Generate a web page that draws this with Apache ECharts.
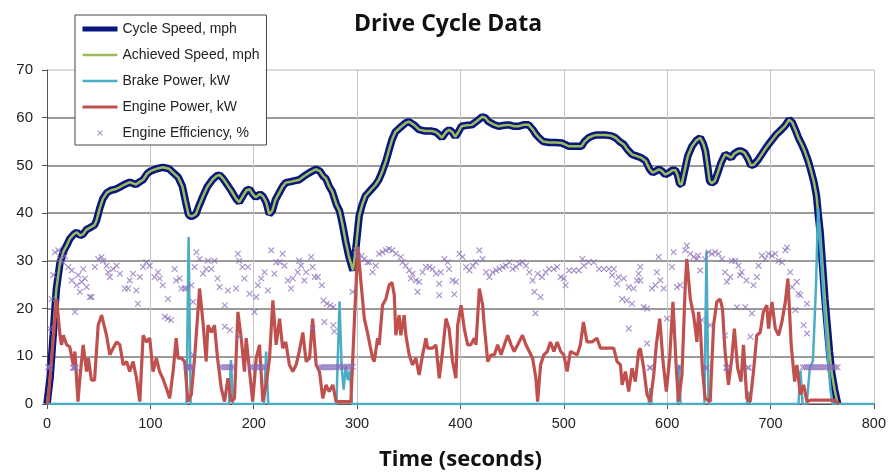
<!DOCTYPE html>
<html>
<head>
<meta charset="utf-8">
<script src="https://cdn.jsdelivr.net/npm/echarts@6/dist/echarts.min.js"></script>
<style>
  html, body { margin: 0; padding: 0; background: #fff; }
  #chart { width: 889px; height: 476px; }
</style>
</head>
<body>
<div id="chart"></div>
<script>
// drive cycle data as [time (s), value]
const cycleSpeed = [
  [0,0],[3,5.5],[6,14.5],[9,24],[12.5,29.5],[16,32],[19,33.2],[22,34.6],[26,35.6],[29,36],[32,35.3],[35,35.6],
  [38,36.5],[42,37],[46,37.5],[48,38.5],[51,41],[54,43],[58,44.3],[62,44.8],[66,45],[70,45.4],[75,46],[80,46.5],
  [86,46],[90,46.6],[93,47],[97,48.3],[100,48.8],[106,49.3],[112,49.6],[118,49.3],[122,48.5],[127,47.5],[131,45.6],
  [134,42.5],[137,39.6],[140,39.3],[144,39.8],[147,41.5],[151,43.6],[155,45.5],[160,47],[164,47.8],[167,48],
  [170,47.3],[173,46.4],[178,44.8],[183,43],[186,42.3],[190,43.8],[193,44.8],[196,45],[199,44],[202,43.3],[206,44],
  [209,43.5],[212,42.3],[215,39.8],[218,40.5],[221,42.8],[225,44.4],[228,45.6],[231,46.4],[236,46.6],[240,46.8],
  [244,47],[249,47.8],[254,48.5],[260,49.2],[264,48.8],[267,47.8],[270,47.2],[273,45.6],[276,44.5],[280,41.8],
  [283,40.5],[286,37.5],[289,34],[292,31],[296,28],[299,33],[302,39.4],[305,41.8],[308,43.6],[313,44.8],[318,46],
  [321,47],[324,48.5],[328,51],[331,53.3],[334,55.5],[337,57],[342,58],[347,58.9],[350,59.2],[355,58.5],[360,57.5],
  [366,57.2],[372,57.2],[376,57],[379,56.5],[382,55.8],[386,57],[389,57.5],[392,57],[395,56],[398,57],[401,58.2],
  [406,58.4],[411,58.5],[416,59.3],[421,60.2],[424,60],[427,59.2],[432,58.6],[437,58.2],[442,58.4],[447,58.5],
  [452,58.2],[456,58.2],[461,58.5],[466,58.5],[470,57.5],[473,56.5],[476,55.8],[480,55],[486,54.8],[492,54.8],
  [498,54.7],[502,54.3],[505,54],[511,54],[517,54],[520,55],[524,55.8],[528,56.2],[532,56.4],[540,56.4],[546,56.2],
  [550,55.8],[554,55],[558,54.4],[562,53.2],[566,52.3],[570,52],[575,51.6],[579,51],[583,49.2],[586,48.5],
  [589,48.8],[592,49.2],[595,48.8],[598,48.1],[602,48.5],[605,49],[608,49],[610,48],[612,46.2],[614,46],[617,49],
  [620,52],[624,54],[628,55.2],[632,55.8],[635,54.5],[637,53],[639,50],[641,46.8],[643,46.3],[646,46.7],[649,48.5],
  [652,50.5],[656,52.3],[659,52],[662,51.6],[665,52.5],[669,53],[672,53],[675,52.6],[678,51.5],[681,50],[684,50.2],
  [688,51.2],[692,52.5],[695,53.5],[698,54.4],[702,55.5],[706,56.6],[710,57.4],[714,58.3],[718,59.6],[721,59],
  [724,57.5],[727,55.8],[730,54.5],[733,53],[736.5,50.9],[739,49],[742,46.5],[744.5,43.6],[746,40],[748,36],
  [750,30],[752.6,22],[755,16],[757,11],[759,6.8],[762,3],[765,0]
];

// achieved speed sits right on top of the cycle speed trace
const achievedSpeed = cycleSpeed;

const brakePower = [
  [0,0],[135,0],[137,35],[139,0],[176,0],[178,9.2],[180,0],[210,0],[212,11],[214,0],[280,0],[283,21.5],[285,8],
  [287,3],[289,8],[291,5],[293,7],[295,0],[582,0],[583.7,3.3],[585,0],[610,0],[611.5,8.2],[613,0],[636,0],[638,32],
  [640,0],[677,0],[678.6,2.6],[680,0],[727,0],[729,7],[731,0],[735,0],[738,7.5],[741,9],[744,25],[746,41],[749,30],
  [752,20],[755,11],[758,3],[760,0],[800,0]
];

const enginePower = [
  [0,0],[1,0.5],[9.3,22],[12.6,14.4],[14,12.4],[15.8,14.4],[19,12.4],[22,12],[25.4,8.2],[27,11],[30,0.5],[31.8,5.4],
  [35,12.4],[38.3,6.8],[40,9.6],[43,5],[46,5],[49.5,16.5],[52.8,18.6],[54.4,17.2],[57.6,14.4],[60.8,10.3],[64,11.7],
  [67.3,13],[70.5,12.4],[73.7,8.2],[77,8.9],[80,6.8],[83.3,8.9],[86.6,5.4],[89.8,0.5],[93,14.4],[96.2,13],[99.4,13.8],
  [102.6,6.8],[105.8,9.6],[109,6.8],[112,5.4],[115.5,3.3],[118.7,1.2],[122,6.8],[125,13.8],[126.8,9.6],[130,9.6],
  [133.2,8.9],[136.4,0.5],[139.6,2],[142.8,9.6],[147.6,24.2],[150.9,17.2],[154,8.9],[155.7,16.5],[159,15],[162,16.5],
  [165,9.6],[168.6,3.3],[171.8,0.5],[175,5.4],[178.2,0.5],[181.4,1.2],[184.7,19.3],[187.9,13.8],[191,6.8],[192.7,13.8],
  [196,6.8],[199,0.5],[202.4,9.6],[205.6,12.4],[208.8,0.5],[212,4],[215.3,9.6],[218.5,21.7],[221.7,12.4],[225,17.9],
  [228,11.7],[231,13],[234.5,8.2],[237.8,6.8],[241,8.2],[244,11],[247.5,15],[250.7,8.9],[254,9.6],[257,17.9],
  [260.4,8.2],[263.6,6.8],[266.8,1.2],[270,4],[273,2.6],[276.5,4],[279.7,0.5],[294,0.5],[297.5,17.9],[300.7,33],
  [304,24.9],[307,17.9],[310,15],[311.8,15],[315,9.6],[316.6,8.9],[319.8,13.8],[321.4,12.4],[324.6,20.7],[327.8,22],
  [331,24.9],[333.7,25.5],[336,22.8],[337.5,14.4],[340.7,18.6],[342.3,14.4],[345.5,18.6],[347.2,14.4],[350.4,10.3],
  [353.6,8.2],[356.9,9.6],[360,6.1],[363.4,10.3],[366.6,13.8],[368.3,11.7],[373,11.7],[376.3,12.4],[379.5,5.4],
  [382.7,11],[386,17.9],[389,15.8],[392.4,8.9],[395.6,5.4],[397.3,16.5],[400.6,20.7],[403.7,15.8],[407,12.4],
  [410,12.4],[413.4,13.8],[415,12.4],[418.3,24.2],[421.5,20.7],[423,16.5],[426.4,8.9],[429.6,10.3],[432.8,10.3],
  [436,12.4],[439.3,10.3],[442.5,12.4],[445.7,14.4],[449,12.4],[452,11],[455.4,12.4],[460,14.4],[463.4,12.4],
  [466.6,11],[469.8,9.6],[473,5.4],[474.7,0.5],[477.5,8.2],[480.7,10.3],[484,11],[487,13],[490.4,11],[493.6,13],
  [497,11],[500,10.3],[503.2,6.8],[506.4,11],[513,10.3],[516,12.4],[519,17.2],[522.4,13],[527.3,13],[532,13.8],
  [535.5,11.7],[548.3,11.7],[551.5,8.9],[554.8,8.2],[556.4,4],[559.6,6.8],[562.8,2.6],[566,7.5],[569.2,4.7],
  [572.4,11],[574,11.7],[577.3,7.5],[580.5,2],[583.7,0.5],[587,6.1],[589.5,12.4],[592.8,17.9],[596,8.9],[599.2,2.6],
  [602.4,9.6],[605.6,21.4],[608.8,7.5],[611,0.5],[614.3,6.1],[617.5,24.9],[619,30.4],[622.4,22],[625.6,18.6],
  [628.8,13],[630.4,19.3],[632,16.5],[634,7.5],[636.7,1.2],[641.6,0.5],[644.9,16.5],[648,21.4],[651.2,22],[653.5,20],
  [656,11],[659.3,4],[662.5,9.6],[665,15.8],[668.2,7.5],[671.4,4.7],[673.8,12.4],[677,1.2],[680.3,0.5],[683.5,6.8],
  [686.7,14.4],[690,15],[693,19.3],[696.4,20.7],[698,15.8],[701.4,21.4],[704.6,15.8],[707.8,14.4],[711,17.2],
  [714.3,21.4],[716.8,26.3],[720,12.4],[723.3,4.7],[725.5,8.2],[728.8,2],[732,4],[735.3,0.5],[738.5,0.8],[762,0.8],
  [766,0]
];

const engineEfficiency = [
  // idle band near 7.7 %
  [1,7.7],[2,7.7],[3,7.7],[25,7.6],[26,7.6],[27,7.6],[28,7.6],[135,7.7],[136,7.7],[137,7.7],[138,7.7],[139,7.7],
  [140,7.7],[168,7.7],[170,7.7],[172,7.7],[174,7.7],[176,7.7],[178,7.7],[180,7.7],[197,7.7],[199,7.7],[201,7.7],
  [203,7.7],[205,7.7],[207,7.7],[209,7.7],[211,7.7],[264,7.7],[266,7.7],[268,7.7],[270,7.7],[272,7.7],[274,7.7],
  [276,7.7],[278,7.7],[280,7.7],[282,7.8],[284,7.8],[286,7.8],[288,7.8],[290,7.8],[292,7.8],[294,7.8],[296,7.8],
  [583,7.6],[584,7.6],[611,7.6],[612,7.6],[637,7.6],[638,7.6],[657,7.6],[658,7.6],[678,7.6],[679,7.6],
  [731,7.7],[733,7.7],[735,7.7],[737,7.7],[739,7.7],[741,7.7],[743,7.7],[745,7.7],[747,7.7],[749,7.7],[751,7.7],
  [753,7.7],[755,7.7],[757,7.7],[759,7.7],[761,7.7],[763,7.7],[765,7.7],
  // running
  [2.9,15.8],[4.5,22],[6,27],[7.7,31.8],[10.9,32.2],[12.6,30.4],[15.8,29.7],[17.4,31],[20.6,28.7],[23.9,28],
  [23.9,25.9],[27,19.3],[28.6,24.9],[30.2,27],[31.8,23.5],[33.5,25.6],[35,28.3],[36.7,26.3],[38.3,24.5],[41.5,22.4],
  [43,22.4],[46.3,28.7],[49.5,30.4],[52.7,30.8],[54.4,30],[57.6,29],[59.2,27.6],[60.8,26.6],[64,28.3],[67.3,29],
  [70.5,27.3],[75.3,24.2],[78.5,24.2],[80,25.9],[83.3,27.3],[86.5,23.8],[88,21],[89.8,26.6],[93,28.7],[96,29.7],
  [99.4,29],[104,26.6],[107.4,27.6],[109,26.3],[112,24.9],[114,18.3],[117,17.9],[117,22],[120,17.6],[123.5,28.3],
  [125,25.9],[128.4,26.3],[130,24.2],[133,24.2],[134.8,24.2],[139.6,24.9],[141.3,21.4],[141.3,10.3],[142.8,28.7],
  [144.5,31.8],[147.6,30.4],[150.9,27.3],[154,28.3],[155.7,30],[159,28.3],[162,30],[165,26.3],[167,24.5],
  [172,20.7],[172,16.2],[175,23.8],[177,15.5],[183,24.2],[184.7,31.5],[186,30],[186,14.1],[189,28.7],[191,26.3],
  [194.4,28.7],[196,23.1],[200.8,19.3],[202.4,22.4],[204,24.9],[207.3,26.3],[210.5,27.6],[213.7,23.8],[217,32.2],
  [220,27.3],[221.7,29.7],[225,29.7],[228,31.5],[229.8,29],[233,25.9],[236.2,24.2],[237.8,26.3],[242.6,27.6],
  [244,30],[245.8,29],[249,25.9],[250.7,27.6],[255.6,30.8],[257,28.7],[257,15.8],[259,26.6],[262,26.6],[265.9,24.9],
  [267.5,21.7],[268.4,17.2],[270.7,21],[274,20.7],[277,20.3],[277,16.5],[278,15.2],[295.6,23.5],[298.5,32.2],
  [301,31],[304,31],[307,30.4],[310,29.7],[311.8,29.7],[315,27.6],[318,29],[321.4,31.5],[324.6,31.8],[327.8,32.2],
  [331,32.5],[334,32.2],[337.5,31.5],[342.3,30.8],[344,29.7],[347,29],[350.4,28],[352,26.3],[353.6,27.3],[357,25.9],
  [358.5,23.5],[360,25.6],[363.4,27.6],[366.6,28.7],[370,28.7],[373,28.3],[376.3,27.3],[379.5,25.2],[379.5,22.8],
  [381,27.6],[384.4,30.4],[387.6,29.7],[389,28.3],[392.4,25.9],[394,23],[395.6,25.6],[399,31.5],[402,30.8],
  [405.5,28.7],[408.7,28],[412,29],[415,29.7],[418.3,32.2],[421.5,30.4],[424.8,27.6],[428,26.6],[431,27.6],
  [434.5,28],[437.7,28.3],[441,28.7],[444,29],[447.3,29.7],[450.5,28.3],[453.8,28.7],[457,29.4],[460,29.7],
  [463.4,29],[466.6,27.6],[469.8,25.9],[471.5,23.5],[472.6,19],[474.7,27.3],[477.5,22.4],[479,26.6],[482.4,27.6],
  [485.6,28.3],[490.4,28.3],[493.6,28.7],[497,26.6],[500,26.3],[501.7,24.9],[505,28],[509.7,28],[514.5,28],
  [518,30.4],[519.4,29],[524,29.7],[529,29.7],[534,28.3],[538.8,28.3],[543.6,28.3],[546.8,27],[548.4,28.3],
  [551.5,25.2],[553,26.6],[556.4,22],[558,26.3],[561,21.7],[562.8,24.5],[562.8,15.8],[566,21],[567.6,24.2],
  [570.8,25.9],[572.4,27.3],[574,28.7],[574,25.9],[577.3,20.3],[580.5,20],[580.5,12.7],[585.3,24.2],[588.5,24.9],
  [590,27.6],[591.8,30.8],[593.4,25.9],[596.6,24.2],[599.8,17.9],[604.6,28.7],[606.2,31.8],[609.4,24.5],
  [612.6,24.9],[617.5,32.2],[619,33.2],[622.4,31.5],[625.6,30.8],[628.8,30.4],[630,31.1],[632,28],[633.6,17.6],
  [636.7,30.4],[640,31.8],[641.6,16.5],[643.3,31.5],[646.5,31.8],[649.7,31.5],[653,30.4],[656,27.6],[656,14.4],
  [657.8,25.6],[661,26.6],[662.5,30],[665.7,30],[667.5,20.3],[669,29],[670.6,27],[672,27.6],[675.6,20.3],
  [676.7,25.9],[680.5,14.1],[682,19],[683.5,24.9],[686.8,26.6],[688.4,29],[691.6,31.1],[694.8,30.4],[698,31.5],
  [701.4,31.1],[704.6,31.5],[707.8,30],[711,29.7],[714.3,32.2],[716,32.8],[719,27.6],[720.8,24.5],[724,19.7],
  [725.5,25.6],[727,23.1],[728.8,22.8],[732,16.5],[735.3,21],[735.3,14.8]
];

const xTicks = { min: 0, max: 800, step: 100 };
const yTicks = { min: 0, max: 70, step: 10 };

const crossPath = 'path://M0,1L1,0L4,3L7,0L8,1L5,4L8,7L7,8L4,5L1,8L0,7L3,4Z';
// same cross with empty room around it, so the legend icon stays small
const crossLegend = 'path://M-6,-6L-6,-6ZM14,14L14,14ZM0,1L1,0L4,3L7,0L8,1L5,4L8,7L7,8L4,5L1,8L0,7L3,4Z';

// legend shows a plain line for the line series (no marker dot)
function lineItem(name, width) {
  return { name: name, itemStyle: { opacity: 0 }, lineStyle: { width: width } };
}

const chart = echarts.init(document.getElementById('chart'), null, { renderer: 'canvas' });

chart.setOption({
  animation: false,
  backgroundColor: '#ffffff',
  title: {
    text: 'Drive Cycle Data',
    left: 349,
    top: 8,
    textStyle: { fontFamily: 'Open Sans', fontWeight: 'bold', fontSize: 23, color: '#111' }
  },
  legend: {
    orient: 'vertical',
    left: 75,
    top: 15,
    padding: [7, 7, 5, 5],
    itemWidth: 35,
    itemHeight: 14,
    itemGap: 12,
    backgroundColor: '#ffffff',
    borderColor: '#444',
    borderWidth: 1,
    borderRadius: 0,
    textStyle: { fontFamily: 'Liberation Sans', fontSize: 14, color: '#222' },
    data: [
      lineItem('Cycle Speed, mph', 5),
      lineItem('Achieved Speed, mph', 2.5),
      lineItem('Brake Power, kW', 2.5),
      lineItem('Engine Power, kW', 3),
      { name: 'Engine Efficiency, %', icon: crossLegend }
    ]
  },
  grid: { left: 47, right: 13, top: 70, bottom: 70 },
  xAxis: {
    type: 'value',
    min: xTicks.min,
    max: xTicks.max,
    interval: xTicks.step,
    name: 'Time (seconds)',
    nameLocation: 'middle',
    nameGap: 45,
    nameTextStyle: { fontFamily: 'Open Sans', fontWeight: 'bold', fontSize: 22, color: '#111' },
    axisLine: { onZero: false, lineStyle: { color: '#555', width: 1 } },
    axisTick: { show: true, length: 5, lineStyle: { color: '#555' } },
    axisLabel: { margin: 12, fontFamily: 'Liberation Sans', fontSize: 14.5, color: '#222' },
    splitLine: { show: true, lineStyle: { color: '#c4c4c4', width: 1 } }
  },
  yAxis: {
    type: 'value',
    min: yTicks.min,
    max: yTicks.max,
    interval: yTicks.step,
    axisLine: { show: true, lineStyle: { color: '#555', width: 1 } },
    axisTick: { show: true, length: 5, lineStyle: { color: '#555' } },
    axisLabel: { margin: 14, fontFamily: 'Liberation Sans', fontSize: 15, color: '#222' },
    splitLine: {
      show: true,
      lineStyle: { color: ['#7a7a7a', '#7a7a7a', '#7a7a7a', '#7a7a7a', '#7a7a7a', '#7a7a7a', '#7a7a7a', '#cfcfcf'], width: 1.5 }
    }
  },
  series: [
    {
      name: 'Cycle Speed, mph',
      type: 'line',
      data: cycleSpeed,
      symbol: 'none',
      color: '#0a1680',
      lineStyle: { color: '#0a1680', width: 7.5 },
      z: 2
    },
    {
      name: 'Achieved Speed, mph',
      type: 'line',
      data: achievedSpeed,
      symbol: 'none',
      color: '#9BBB59',
      lineStyle: { color: '#9BBB59', width: 2.5 },
      z: 3
    },
    {
      name: 'Brake Power, kW',
      type: 'line',
      data: brakePower,
      symbol: 'none',
      color: '#4BACC6',
      lineStyle: { color: '#4BACC6', width: 2.5 },
      z: 4
    },
    {
      name: 'Engine Power, kW',
      type: 'line',
      data: enginePower,
      symbol: 'none',
      color: '#C0504D',
      lineStyle: { color: '#C0504D', width: 3.2 },
      z: 5
    },
    {
      name: 'Engine Efficiency, %',
      type: 'scatter',
      data: engineEfficiency,
      symbol: crossPath,
      symbolSize: 6.5,
      itemStyle: { color: '#8a6cb8', opacity: 0.75 },
      z: 6
    }
  ]
});
</script>
</body>
</html>
